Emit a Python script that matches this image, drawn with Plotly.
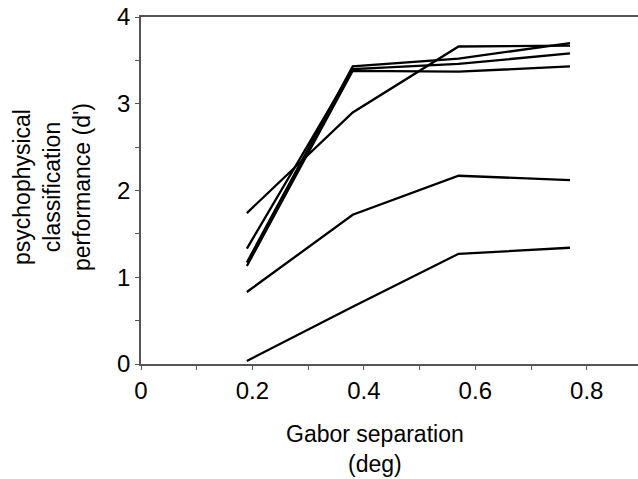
import plotly.graph_objects as go

separation = [0.19, 0.38, 0.57, 0.77]
obs_a = [1.74, 2.90, 3.66, 3.67]
obs_b = [1.17, 3.43, 3.52, 3.70]
obs_c = [1.33, 3.40, 3.46, 3.58]
obs_d = [1.13, 3.38, 3.37, 3.43]
obs_e = [0.83, 1.72, 2.17, 2.12]
obs_f = [0.035, 0.66, 1.27, 1.34]
series = [obs_a, obs_b, obs_c, obs_d, obs_e, obs_f]

x_ticks = [0, 0.2, 0.4, 0.6, 0.8]
x_labels = ["0", "0.2", "0.4", "0.6", "0.8"]
y_ticks = [0, 1, 2, 3, 4]
y_labels = ["0", "1", "2", "3", "4"]

fig = go.Figure()
for s in series:
    fig.add_trace(go.Scatter(x=separation, y=s, mode="lines",
                             line=dict(color="black", width=2.3),
                             showlegend=False, hoverinfo="skip"))

font = "Liberation Sans, Arial, sans-serif"
fig.update_layout(
    width=638, height=479,
    margin=dict(l=141, r=0, t=17, b=115),
    paper_bgcolor="white", plot_bgcolor="white",
    font=dict(family=font, color="black"),
    xaxis=dict(range=[0, 0.892], tickvals=x_ticks, ticktext=x_labels,
               showgrid=False, zeroline=False, showline=True, linecolor="#555",
               linewidth=1.5, mirror=True, ticks="outside", ticklen=4,
               tickcolor="#555", tickwidth=1.2, tickfont=dict(size=24),
               minor=dict(dtick=0.1, tick0=0, ticks="outside", ticklen=4,
                          tickcolor="#555", tickwidth=1.2, showgrid=False)),
    yaxis=dict(range=[0, 4], tickvals=y_ticks, ticktext=y_labels,
               showgrid=False, zeroline=False, showline=True, linecolor="#555",
               linewidth=1.5, ticks="outside", ticklen=4, tickcolor="#555",
               tickwidth=1.2, tickfont=dict(size=24),
               minor=dict(dtick=0.5, tick0=0, ticks="outside", ticklen=4,
                          tickcolor="#555", tickwidth=1.2, showgrid=False)),
    annotations=[
        dict(text="Gabor separation<br>(deg)", xref="paper", yref="paper",
             x=(375 - 141) / 497, y=-(419 - 364) / 347, xanchor="center",
             yanchor="top", showarrow=False, font=dict(size=23, family=font)),
        dict(text="psychophysical<br>classification<br>performance (d')",
             xref="paper", yref="paper", x=-(141 - 52) / 497,
             y=(364 - 187) / 347, xanchor="center", yanchor="middle",
             textangle=-90, showarrow=False, font=dict(size=23, family=font)),
    ],
)

fig.write_html("out.html")
